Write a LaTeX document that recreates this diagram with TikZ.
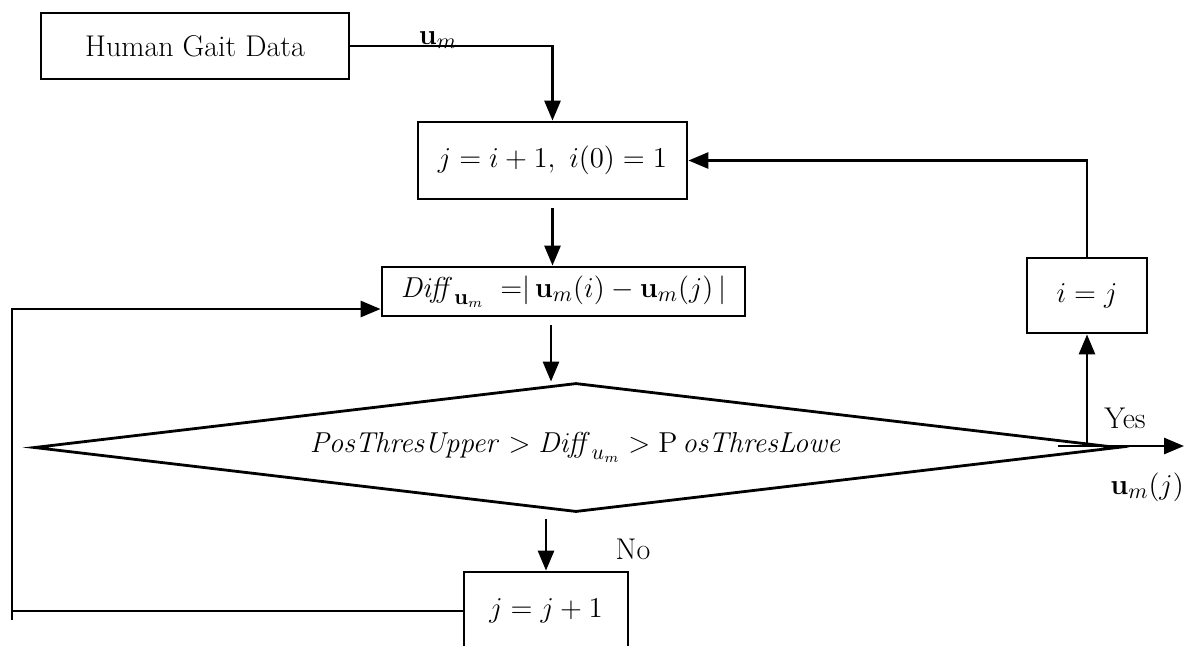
\documentclass[tikz,border=0pt]{standalone}
\usetikzlibrary{arrows.meta,shapes.geometric}
\begin{document}
\begin{tikzpicture}[x=0.5pt,y=-0.5pt,
  font=\fontsize{15}{18}\selectfont,
  line width=1.4pt,
  box/.style={draw, rectangle, inner sep=0pt},
  arr/.style={-{Triangle[length=10pt,width=8pt]}},
  lbl/.style={inner sep=0pt}]
\useasboundingbox (0,0) rectangle (1189,645);
\clip (0,0) rectangle (1189,645);

% nodes
\node[box, minimum width=154pt, minimum height=33pt] (hg) at (195,46) {Human Gait Data};
\node[box, minimum width=134.5pt, minimum height=38.5pt] (b2) at (552.5,160.5) {$j=i+1,\ i(0)=1$};
\node[box, minimum width=181.5pt, minimum height=24.5pt] (b3) at (563.5,291.5)
  {$\mathit{Diff}_{\mathbf{u}_m}\;\;{=}{|}\,\mathbf{u}_m(i)-\mathbf{u}_m(j)\,|$};
\node[draw, diamond, shape aspect=8.4, minimum width=542pt, minimum height=64.5pt, inner sep=0pt] (cond) at (576,447.5)
  {$\mathit{PosThresUpper}>\mathit{Diff}_{u_m}>\mathrm{P}\,\mathit{osThresLowe}$};
\node[box, minimum width=60pt, minimum height=37.5pt] (ij) at (1087,295.5) {$i=j$};
\node[box, minimum width=82pt, minimum height=39pt] (jj) at (546,611) {$j=j+1$};

% labels
\node[lbl, anchor=base] (lum) at (438,44) {$\mathbf{u}_m$};
\node[lbl] (yes) at (1125,418) {Yes};
\node[lbl] (no) at (633,549) {No};
\node[lbl] (uj) at (1147,487) {$\mathbf{u}_m(j)$};

% helper coordinates
\coordinate (ax) at (551,0);
\coordinate (ys) at (1058,446);
\coordinate (ye) at (1184,446);
\coordinate (lt) at (12,309);
\coordinate (lb) at (jj.west -| lt);

% connectors
\draw[arr] (hg.east) -| (b2.north);
\draw[arr, shorten <=4pt] (b2.south) -- (b2.south |- b3.north);
\draw[arr, shorten <=4pt] (b3.south -| ax) -- (cond.north -| ax);
\draw[arr, shorten <=3pt] (cond.south -| jj.north) -- (jj.north);
\draw[arr] (ys) -- (ye);
\draw[arr] (ij.south |- ye) -- (ij.south);
\draw[arr] (ij.north) |- (b2.east);
\draw[arr] (jj.west) -- (lb) -- (lt) -- (lt -| b3.west);
\draw (lb) -- ++(0,9);
\end{tikzpicture}
\end{document}
